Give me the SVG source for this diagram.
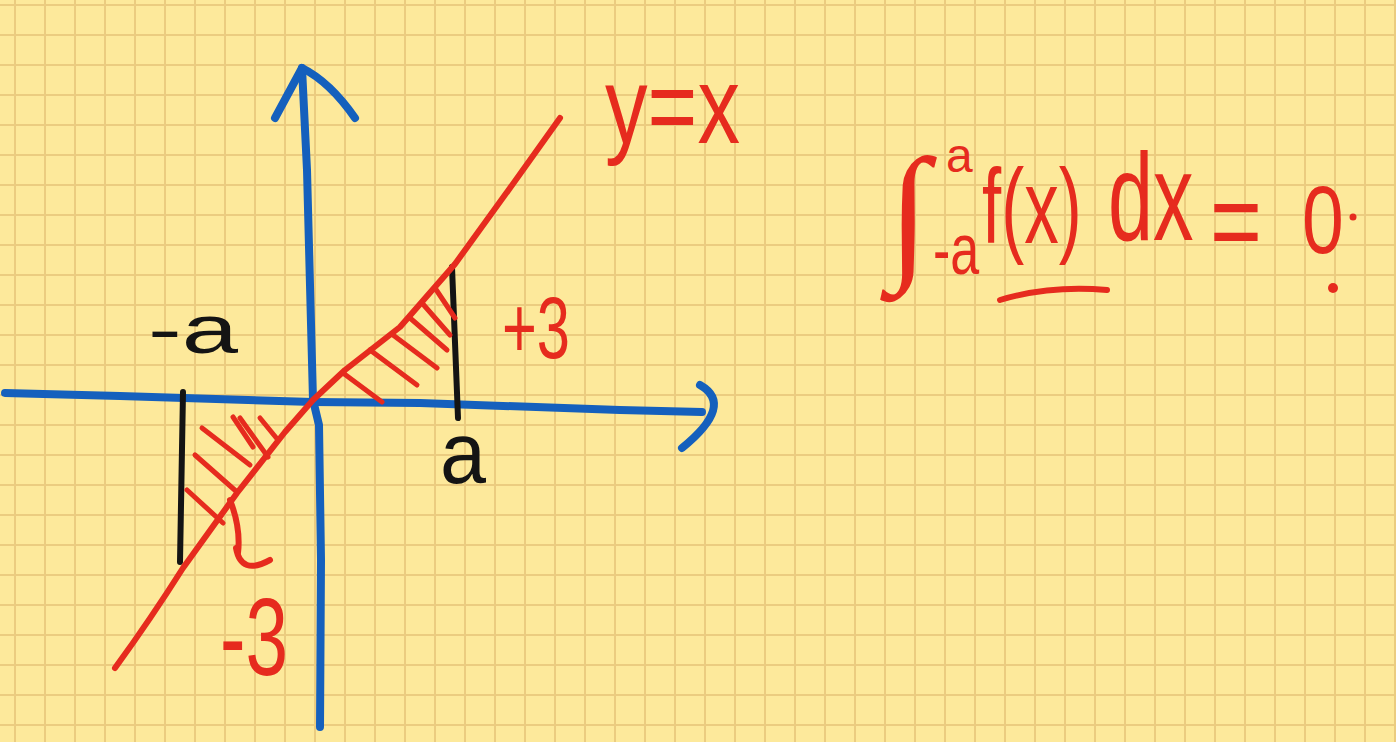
<svg xmlns="http://www.w3.org/2000/svg" width="1396" height="742" viewBox="0 0 1396 742">
<defs>
<pattern id="gridpat" x="0" y="0" width="30" height="30" patternUnits="userSpaceOnUse">
<rect width="30" height="30" fill="#fde99b"/>
<path d="M15 0V30M0 5H30" stroke="#ebcc80" stroke-width="2" fill="none"/>
</pattern>
</defs>
<style>
.blue{fill:none;stroke:#1560bd;stroke-width:8;stroke-linecap:round;stroke-linejoin:round}
.red{fill:none;stroke:#e62b1e;stroke-width:6;stroke-linecap:round;stroke-linejoin:round}
.hatch{fill:none;stroke:#e62b1e;stroke-width:5;stroke-linecap:round;stroke-linejoin:round}
.blk{fill:none;stroke:#141414;stroke-width:6;stroke-linecap:round}
.rt{fill:#e62b1e;font-family:"Liberation Sans",Arial,sans-serif}
.bt{fill:#141414;font-family:"Liberation Sans",Arial,sans-serif}
</style>
<rect id="paper" width="1396" height="742" fill="url(#gridpat)"/>
<g id="axes">
<path class="blue" d="M5,393 L120,396 L313,402 L420,403 L620,410 L702,412"/>
<path class="blue" d="M700,385 Q735,405 682,448"/>
<path class="blue" d="M302,68 L307,170 L313,400 L319,425 L321,560 L320,727"/>
<path class="blue" d="M275,118 Q290,90 302,68 Q330,82 355,118"/>
</g>
<g id="bounds">
<path class="blk" d="M183,392 L180,562"/>
<path class="blk" d="M452,267 L458,418"/>
</g>
<g id="line">
<path class="red" d="M115,668 Q150,620 183,568 L237,493 L285,432 L313,400 L345,370 L400,327 L455,264 L510,188 L560,118"/>
</g>
<g id="hatch">
<path class="hatch" d="M202,428 L250,465"/>
<path class="hatch" d="M195,455 L237,492"/>
<path class="hatch" d="M187,490 L223,523"/>
<path class="hatch" d="M233,417 L253,447"/>
<path class="hatch" d="M240,418 L268,457"/>
<path class="hatch" d="M260,418 L278,440"/>
<path class="hatch" d="M343,373 L382,402"/>
<path class="hatch" d="M370,350 L417,385"/>
<path class="hatch" d="M393,335 L437,368"/>
<path class="hatch" d="M410,318 L447,350"/>
<path class="hatch" d="M422,303 L450,335"/>
<path class="hatch" d="M435,288 L455,318"/>
</g>
<g id="arrow-minus">
<path class="red" d="M230,500 Q241,528 238,553"/>
<path class="red" d="M236,548 Q241,576 270,560"/>
</g>
<g id="labels">
<text class="rt" x="605" y="143" font-size="110" textLength="135" lengthAdjust="spacingAndGlyphs">y=x</text>
<text class="bt" x="148" y="353" font-size="68" textLength="90" lengthAdjust="spacingAndGlyphs">-a</text>
<text class="bt" x="440" y="483" font-size="88" textLength="46" lengthAdjust="spacingAndGlyphs">a</text>
<text class="rt" x="502" y="358" font-size="88" textLength="68" lengthAdjust="spacingAndGlyphs">+3</text>
<text class="rt" x="220" y="675" font-size="110" textLength="68" lengthAdjust="spacingAndGlyphs">-3</text>
</g>
<g id="formula">
<text x="888" y="262" font-size="150" fill="#e62b1e" font-family="'Liberation Serif','Times New Roman',serif">∫</text>
<text class="rt" x="946" y="172" font-size="48">a</text>
<text class="rt" transform="translate(933,274) scale(1,1.4)" font-size="52">-a</text>
<text class="rt" transform="translate(982,243) scale(1,1.52)" font-size="69">f(x)</text>
<text class="rt" transform="translate(1108,240) scale(1,1.54)" font-size="81">dx</text>
<text class="rt" transform="translate(1210,260) scale(1,1.29)" font-size="89">=</text>
<text class="rt" transform="translate(1302,253) scale(1,1.28)" font-size="75">0</text>
<path class="red" d="M1000,300 Q1050,285 1107,290"/>
<circle cx="1353" cy="217" r="3.5" fill="#e62b1e"/>
<circle cx="1333" cy="288" r="5" fill="#e62b1e"/>
</g>
</svg>
